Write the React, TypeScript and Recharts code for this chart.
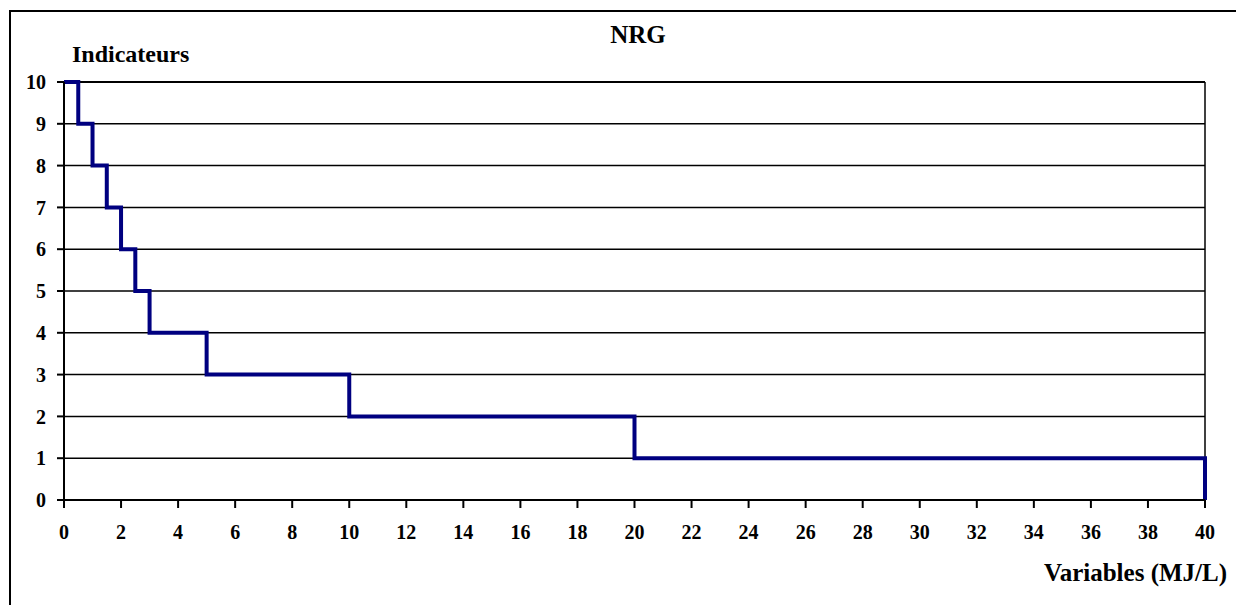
import { LineChart, Line, XAxis, YAxis, CartesianGrid, ReferenceLine } from 'recharts';

// NRG threshold curve: indicator value vs variable (MJ/L)
const variables = [0, 0.5, 1, 1.5, 2, 2.5, 3, 5, 10, 20, 40];
const indicateurs = [10, 9, 8, 7, 6, 5, 4, 3, 2, 1, 0];

const xTicks = [0, 2, 4, 6, 8, 10, 12, 14, 16, 18, 20, 22, 24, 26, 28, 30, 32, 34, 36, 38, 40];
const yTicks = [0, 1, 2, 3, 4, 5, 6, 7, 8, 9, 10];

const chartData = variables.map((v, i) => ({ x: v, y: indicateurs[i] }));

const serif = '"Liberation Serif", "Times New Roman", serif';

export default function App() {
    const tickStyle = { fill: '#000', fontSize: 20, fontWeight: 700, fontFamily: serif };

    return (
        <div
            style={{
                position: 'absolute',
                left: 0,
                top: 0,
                width: 1236,
                height: 605,
                background: '#fff',
                overflow: 'hidden',
            }}
        >
            {/* outer frame, right and bottom edges fall outside the picture */}
            <div
                style={{
                    position: 'absolute',
                    left: 9,
                    top: 10,
                    width: 1240,
                    height: 610,
                    border: '2px solid #000',
                    boxSizing: 'border-box',
                }}
            />
            <LineChart
                width={1236}
                height={605}
                data={chartData}
                margin={{ top: 82, right: 31, left: 0, bottom: 0 }}
                style={{ position: 'absolute', left: 0, top: 0 }}
            >
                <CartesianGrid vertical={false} stroke="#000" strokeWidth={1.5} />
                <XAxis
                    dataKey="x"
                    type="number"
                    domain={[0, 40]}
                    ticks={xTicks}
                    interval={0}
                    height={105}
                    stroke="#000"
                    strokeWidth={2}
                    tickSize={8}
                    tickMargin={17}
                    tick={tickStyle}
                />
                <YAxis
                    type="number"
                    domain={[0, 10]}
                    ticks={yTicks}
                    interval={0}
                    width={64}
                    stroke="#000"
                    strokeWidth={2}
                    tickSize={7}
                    tickMargin={11}
                    tick={tickStyle}
                />
                <ReferenceLine x={40} stroke="#000" strokeWidth={1.5} />
                <ReferenceLine y={10} stroke="#000" strokeWidth={2} />
                <Line
                    type="stepAfter"
                    dataKey="y"
                    stroke="#000080"
                    strokeWidth={4}
                    dot={false}
                    activeDot={false}
                    isAnimationActive={false}
                />
            </LineChart>
            <svg width={1236} height={605} style={{ position: 'absolute', left: 0, top: 0, pointerEvents: 'none' }}>
                <text x={638} y={43} textAnchor="middle" fontFamily={serif} fontWeight={700} fontSize={25} fill="#000">
                    NRG
                </text>
                <text x={72} y={62} fontFamily={serif} fontWeight={700} fontSize={24} fill="#000">
                    Indicateurs
                </text>
                <text x={1227} y={581} textAnchor="end" fontFamily={serif} fontWeight={700} fontSize={25} fill="#000">
                    Variables (MJ/L)
                </text>
            </svg>
        </div>
    );
}
